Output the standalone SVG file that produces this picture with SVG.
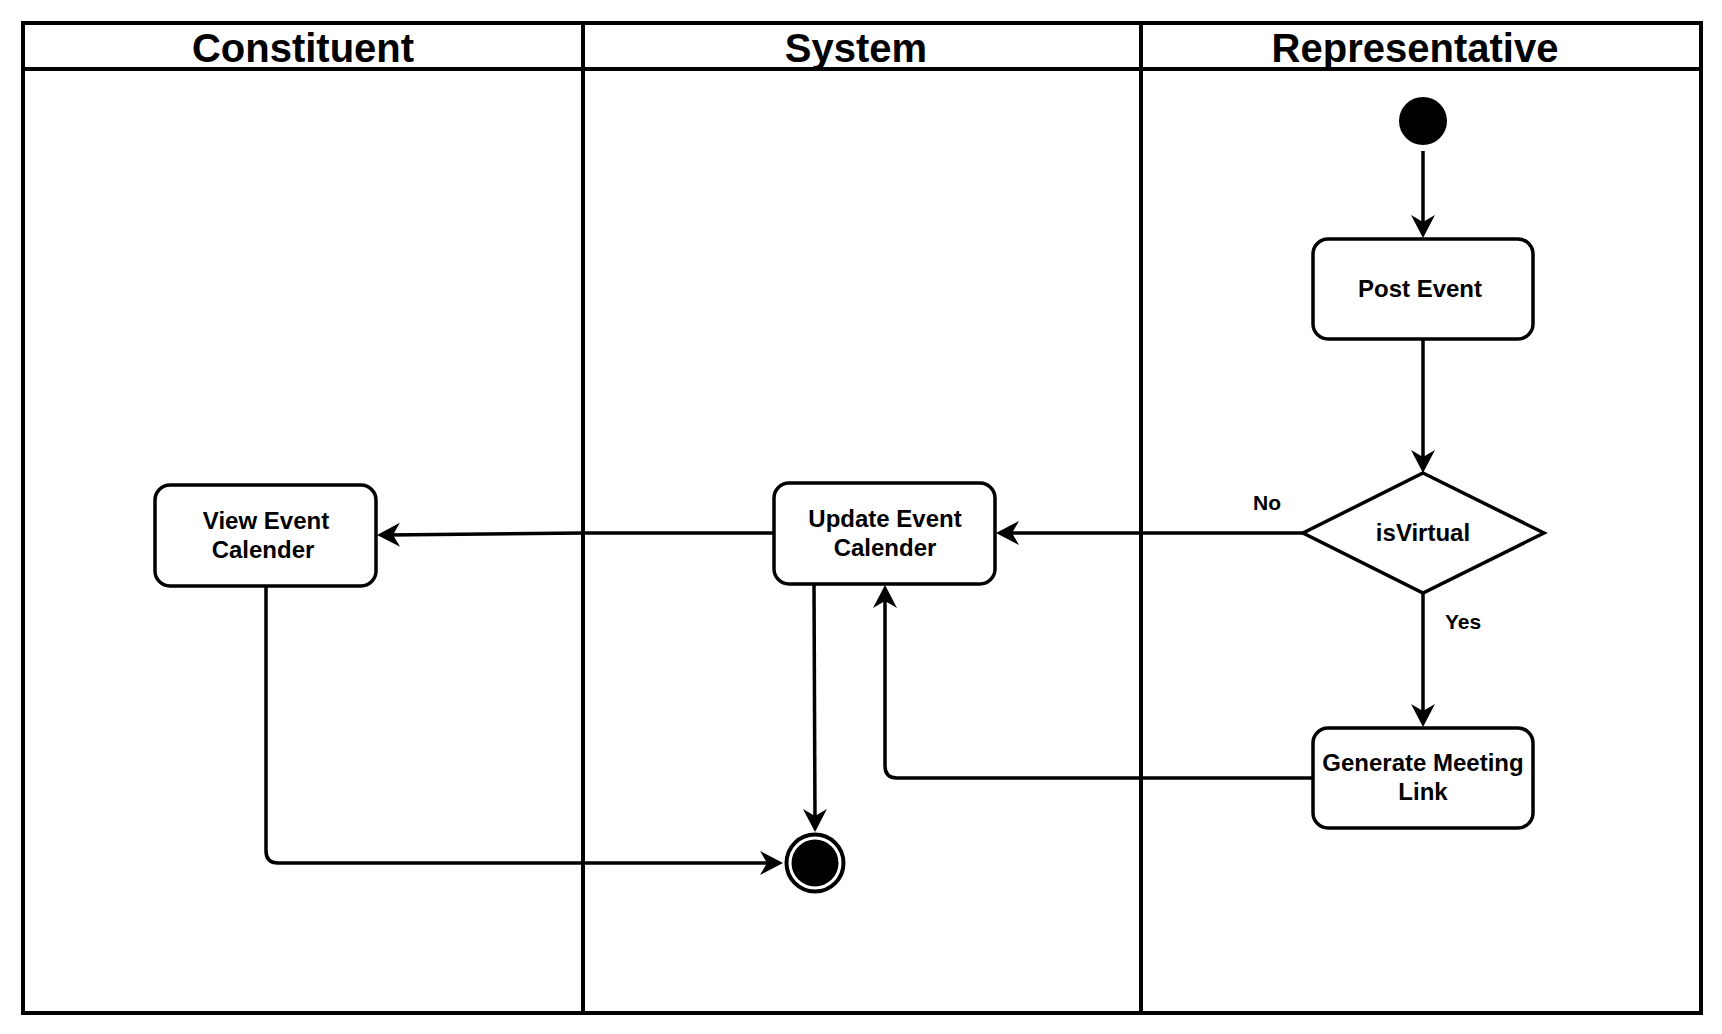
<svg xmlns="http://www.w3.org/2000/svg" width="1722" height="1034" viewBox="0 0 1722 1034">
<style>
.lane{fill:none;stroke:#000;stroke-width:4}
.hdr{font-family:"Liberation Sans",Arial,sans-serif;font-weight:bold;font-size:40px;text-anchor:middle;fill:#000}
.box{fill:#fff;stroke:#000;stroke-width:3.5}
.lbl{font-family:"Liberation Sans",Arial,sans-serif;font-weight:bold;font-size:24px;text-anchor:middle;fill:#000}
.elbl{font-family:"Liberation Sans",Arial,sans-serif;font-weight:bold;font-size:21px;text-anchor:middle;fill:#000}
.edge{fill:none;stroke:#000;stroke-width:3.5;marker-end:url(#arr)}
</style>
<defs>
<marker id="arr" markerUnits="userSpaceOnUse" viewBox="-26 -14 28 28" markerWidth="28" markerHeight="28" refX="-10" refY="0" orient="auto">
<path d="M0,0 L-23,-12 L-16,0 L-23,12 Z" fill="#000"/>
</marker>
</defs>
<rect width="1722" height="1034" fill="#fff"/>
<g id="lanes">
<rect class="lane" x="23" y="23" width="1678" height="990"/>
<line class="lane" x1="23" y1="69" x2="1701" y2="69"/>
<line class="lane" x1="583" y1="23" x2="583" y2="1013"/>
<line class="lane" x1="1141" y1="23" x2="1141" y2="1013"/>
<text class="hdr" x="303" y="62">Constituent</text>
<text class="hdr" x="856" y="62">System</text>
<text class="hdr" x="1415" y="62">Representative</text>
</g>
<g id="connectors">
<path class="edge" d="M1423,151 L1423,228"/>
<path class="edge" d="M1423,339 L1423,463"/>
<path class="edge" d="M1303,533 L1006,533"/>
<path class="edge" d="M1423,594 L1423,717"/>
<path class="edge" d="M1313,778 L897,778 Q885,778 885,766 L885,595"/>
<path class="edge" d="M774,533 L583,533 L387,535"/>
<path class="edge" d="M814,584 L815,822"/>
<path class="edge" d="M266,586 L266,851 Q266,863 278,863 L773,863"/>
<text class="elbl" x="1267" y="510">No</text>
<text class="elbl" x="1463" y="629">Yes</text>
</g>
<g id="start">
<circle cx="1423" cy="121" r="24" fill="#000"/>
</g>
<g id="post-event">
<rect class="box" x="1313" y="239" width="220" height="100" rx="15"/>
<text class="lbl" x="1420" y="297">Post Event</text>
</g>
<g id="is-virtual">
<polygon class="box" points="1423,473 1544,533 1423,593 1303,533"/>
<text class="lbl" x="1423" y="541">isVirtual</text>
</g>
<g id="generate-link">
<rect class="box" x="1313" y="728" width="220" height="100" rx="15"/>
<text class="lbl" x="1423" y="771">Generate Meeting</text>
<text class="lbl" x="1423" y="800">Link</text>
</g>
<g id="update-calendar">
<rect class="box" x="774" y="483" width="221" height="101" rx="15"/>
<text class="lbl" x="885" y="527">Update Event</text>
<text class="lbl" x="885" y="556">Calender</text>
</g>
<g id="view-calendar">
<rect class="box" x="155" y="485" width="221" height="101" rx="15"/>
<text class="lbl" x="266" y="529">View Event</text>
<text class="lbl" x="263" y="558">Calender</text>
</g>
<g id="end">
<circle cx="815" cy="863" r="28.5" fill="#fff" stroke="#000" stroke-width="4"/>
<circle cx="815" cy="863" r="23.5" fill="#000"/>
</g>
</svg>
